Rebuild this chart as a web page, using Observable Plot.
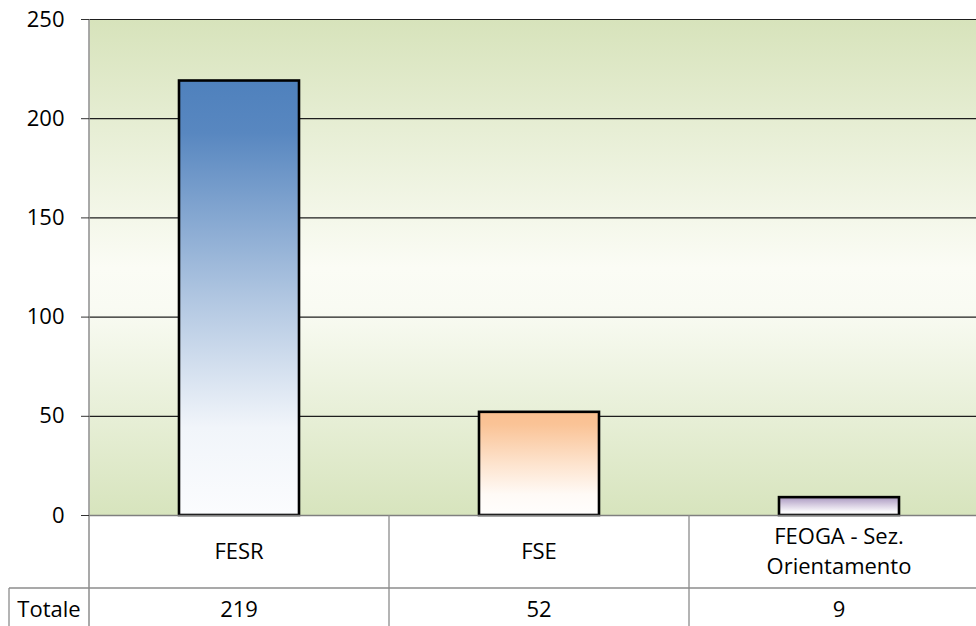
<!DOCTYPE html>
<html>
<head>
<meta charset="utf-8">
<script src="https://cdn.jsdelivr.net/npm/d3@7"></script>
<script src="https://cdn.jsdelivr.net/npm/@observablehq/plot@0.6"></script>
<style>
  html, body { margin: 0; padding: 0; background: #fff; }
  #chart { width: 976px; height: 626px; overflow: hidden; }
</style>
</head>
<body>
<div id="chart"></div>
<script>
const categories = ["FESR", "FSE", "FEOGA - Sez.\nOrientamento"];
const values = [219, 52, 9];
const rowLabel = "Totale";
const yTicks = [0, 50, 100, 150, 200, 250];
const topColors = ["#4f81bd", "#fac090", "#b3a2c7"];

const FONT = "'Open Sans', Lato, sans-serif";

function defsMark() {
  const g = d3.create("svg:defs");
  const bg = g.append("linearGradient").attr("id", "bgGrad").attr("x1", 0).attr("y1", 0).attr("x2", 0).attr("y2", 1);
  [[0, "#d7e3bb"], [0.5, "#fbfcf5"], [0.58, "#f9fbf3"], [1, "#d7e4bd"]].forEach(([o, c]) =>
    bg.append("stop").attr("offset", o).attr("stop-color", c));
  topColors.forEach((c, i) => {
    const lg = g.append("linearGradient").attr("id", "barGrad" + i).attr("x1", 0).attr("y1", 0).attr("x2", 0).attr("y2", 1);
    const mid = d3.interpolateRgb(c, "#ffffff");
    [[0, 0], [0.12, 0.05], [0.5, 0.55], [0.8, 0.92], [1, 0.98]].forEach(([o, t]) =>
      lg.append("stop").attr("offset", o).attr("stop-color", mid(t)));
  });
  return g.node();
}

function tableMark(index, scales, values_, dims) {
  const x = scales.x, y = scales.y;
  const g = d3.create("svg:g");
  const y0 = y(0);
  const r1 = y0 + 73;
  const bottom = dims.height;
  const step = x.step();
  const left = dims.marginLeft;
  const lineColor = "#8c8c8c";
  const fs = 22;
  g.append("line").attr("x1", 9).attr("x2", dims.width).attr("y1", r1).attr("y2", r1)
    .attr("stroke", lineColor).attr("stroke-width", 1.3);
  g.append("line").attr("x1", 9).attr("x2", 9).attr("y1", r1).attr("y2", bottom)
    .attr("stroke", lineColor).attr("stroke-width", 1.3);
  categories.forEach((c, i) => {
    const xs = x(c) - (step - x.bandwidth()) / 2;
    if (i > 0) g.append("line").attr("x1", xs).attr("x2", xs).attr("y1", y0).attr("y2", bottom)
      .attr("stroke", lineColor).attr("stroke-width", 1.3);
    const cx = x(c) + x.bandwidth() / 2;
    const lines = c.split("\n");
    const t = g.append("text").attr("x", cx).attr("text-anchor", "middle")
      .attr("font-family", FONT).attr("font-size", fs).attr("fill", "#000");
    lines.forEach((ln, k) => {
      t.append("tspan").attr("x", cx).attr("y", (y0 + r1) / 2 + (k - (lines.length - 1) / 2) * 30).attr("dy", "0.35em").text(ln);
    });
    g.append("text").attr("x", cx).attr("y", r1 + 21).attr("dy", "0.35em").attr("text-anchor", "middle")
      .attr("font-family", FONT).attr("font-size", fs).attr("fill", "#000").text(values[i]);
  });
  g.append("text").attr("x", (9 + left) / 2).attr("y", r1 + 21).attr("dy", "0.35em").attr("text-anchor", "middle")
    .attr("font-family", FONT).attr("font-size", fs).attr("fill", "#000").text(rowLabel);
  g.append("line").attr("x1", left).attr("x2", left).attr("y1", y(250)).attr("y2", bottom)
    .attr("stroke", lineColor).attr("stroke-width", 1.5);
  return g.node();
}

const plot = Plot.plot({
  width: 976,
  height: 626,
  marginLeft: 89,
  marginRight: 0,
  marginTop: 19,
  marginBottom: 111,
  style: { fontFamily: FONT, background: "#fff", overflow: "visible" },
  x: { domain: categories, range: [89, 989], paddingInner: 0.6, paddingOuter: 0.3, axis: null },
  y: { domain: [0, 250], ticks: yTicks, axis: null },
  marks: [
    defsMark,
    Plot.frame({ fill: "url(#bgGrad)", stroke: null }),
    Plot.ruleY(yTicks, { stroke: "#1e1e1e", strokeWidth: 1.2 }),
    ...categories.map((c, i) => Plot.barY([i], {
      x: (d) => categories[d],
      y: (d) => values[d],
      fill: `url(#barGrad${i})`,
      stroke: "#000",
      strokeWidth: 2.6
    })),
    Plot.ruleY([0], { stroke: "#7f7f7f", strokeWidth: 1.5 }),
    tableMark,
    Plot.axisY({ ticks: yTicks, tickSize: 8, tickPadding: 17, fontSize: 22, stroke: "#333", fill: "#000", label: null })
  ]
});
document.getElementById("chart").appendChild(plot);
</script>
</body>
</html>
